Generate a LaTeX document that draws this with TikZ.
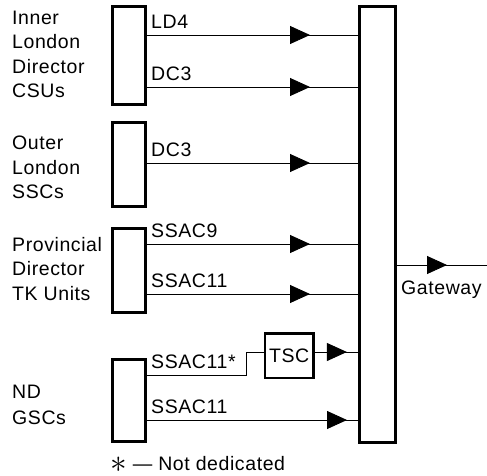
\documentclass[tikz,border=0pt]{standalone}
\usepackage{fontspec}
\setmainfont{Liberation Sans}[LetterSpace=3]
\usetikzlibrary{positioning,calc}
\usetikzlibrary{arrows.meta,decorations.markings}
\newcommand{\fsz}{\fontsize{19.5}{24.5}\selectfont}
\tikzset{
  grp/.style={draw=black,line width=3pt,minimum width=33pt,inner sep=0pt},
  hub/.style={draw=black,line width=3pt,minimum width=36.5pt,minimum height=435pt,inner sep=0pt},
  unit/.style={draw=black,line width=2.8pt,minimum width=48.5pt,minimum height=44.5pt,inner sep=0pt,font=\fsz},
  txt/.style={align=left,inner sep=0pt,anchor=west,font=\fsz},
  lab/.style={inner sep=0pt,anchor=south west,font=\fsz},
}
\tikzset{link/.style={draw=black,line width=0.9pt},
  flow/.style={link,postaction={decorate},decoration={markings,mark=at position #1 with {\arrow{Triangle[length=20pt,width=18pt]}}}}}

\begin{document}
\begin{tikzpicture}[x=1pt,y=-1pt]
\useasboundingbox (0,0) rectangle (487,476);
% exchange groups and gateway
\node[grp,minimum height=98pt] (ild) at (128.5,56) {};
\node[grp,minimum height=83.5pt] (old) at (128.5,164.75) {};
\node[grp,minimum height=84pt] (pdt) at (128.5,270) {};
\node[grp,minimum height=82.5pt] (nd) at (128.5,400.25) {};
\node[hub] (gw) at (377.25,224.5) {};
\node[unit] (tsc) at (289.25,355.75) {TSC};
% route levels
\coordinate (ld4) at (0,35);
\coordinate (dc3a) at (0,87);
\coordinate (dc3b) at (0,163);
\coordinate (ss9) at (0,244);
\coordinate (ss11a) at (0,294);
\coordinate (ss11d) at (0,375);
\coordinate (knee) at (246,352);
\coordinate (ss11b) at (0,420);
\coordinate (out) at (487,265);
% routes
\draw[flow=163.5pt] (ild.east |- ld4) -- (gw.west |- ld4);
\draw[flow=163.5pt] (ild.east |- dc3a) -- (gw.west |- dc3a);
\draw[flow=163.5pt] (old.east |- dc3b) -- (gw.west |- dc3b);
\draw[flow=163.5pt] (pdt.east |- ss9) -- (gw.west |- ss9);
\draw[flow=163.5pt] (pdt.east |- ss11a) -- (gw.west |- ss11a);
\draw[link] (nd.east |- ss11d) -| (knee) -- (tsc.west |- knee);
\draw[flow=32pt] (tsc.east |- knee) -- (gw.west |- knee);
\draw[flow=200.5pt] (nd.east |- ss11b) -- (gw.west |- ss11b);
\draw[flow=50pt] (gw.east |- out) -- (out);
% route labels
\node[lab] (l-ld4) at ($(ild.east |- ld4)+(4.5,-6)$) {LD4};
\node[lab] (l-dc3a) at ($(ild.east |- dc3a)+(4.5,-6)$) {DC3};
\node[lab] (l-dc3b) at ($(old.east |- dc3b)+(4.5,-6)$) {DC3};
\node[lab] (l-ss9) at ($(pdt.east |- ss9)+(4.5,-6)$) {SSAC9};
\node[lab] (l-ss11a) at ($(pdt.east |- ss11a)+(4.5,-6)$) {SSAC11};
\node[lab] (l-ss11d) at ($(nd.east |- ss11d)+(4.5,-6)$) {SSAC11*};
\node[lab] (l-ss11b) at ($(nd.east |- ss11b)+(4.5,-6)$) {SSAC11};
% group names
\node[txt] (t-ild) at (12,54.5) {Inner\\London\\Director\\CSUs};
\node[txt] (t-old) at (12,167.5) {Outer\\London\\SSCs};
\node[txt] (t-pdt) at (12,269) {Provincial\\Director\\TK Units};
\node[txt] (t-nd) at (12,405) {ND\\[1.5pt]GSCs};
\node[lab,anchor=base west] (t-gw) at (401,294) {Gateway};
\node[lab,anchor=base west] (note) at (110,470) {\raisebox{-2.5pt}{\scalebox{1.6}{$\ast$}} — Not dedicated};
\end{tikzpicture}
\end{document}
